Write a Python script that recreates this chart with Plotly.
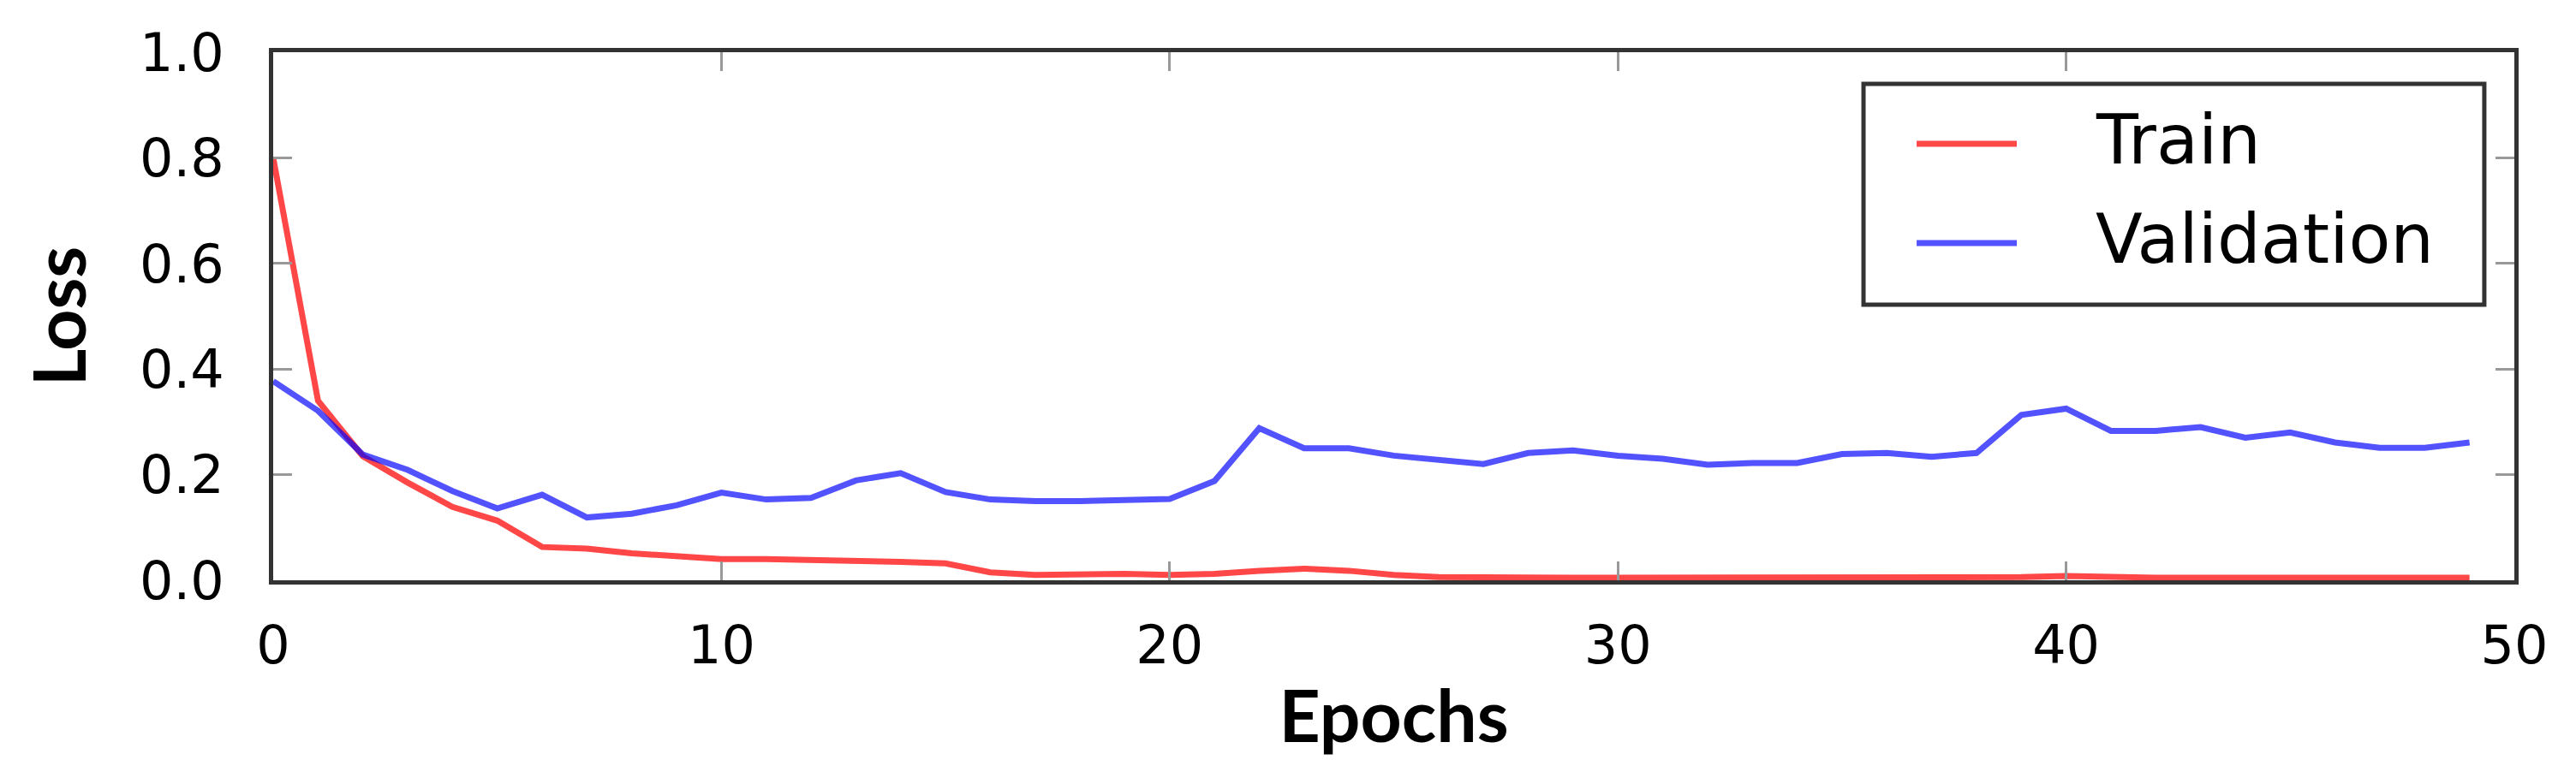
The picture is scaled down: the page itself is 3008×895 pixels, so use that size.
import plotly.graph_objects as go

epochs = list(range(50))
train_loss = [0.80, 0.34, 0.235, 0.185, 0.139, 0.113, 0.063, 0.060, 0.051, 0.046,
              0.040, 0.040, 0.039, 0.037, 0.035, 0.032, 0.015, 0.010, 0.012, 0.012,
              0.010, 0.012, 0.018, 0.022, 0.018, 0.010, 0.006, 0.005, 0.005, 0.005,
              0.005, 0.005, 0.005, 0.005, 0.005, 0.005, 0.005, 0.005, 0.005, 0.006,
              0.008, 0.006, 0.005, 0.005, 0.005, 0.005, 0.005, 0.005, 0.005, 0.005]
val_loss = [0.377, 0.321, 0.238, 0.209, 0.169, 0.136, 0.162, 0.119, 0.126, 0.142,
            0.166, 0.153, 0.156, 0.189, 0.203, 0.167, 0.153, 0.150, 0.150, 0.153,
            0.154, 0.188, 0.288, 0.250, 0.250, 0.236, 0.228, 0.220, 0.241, 0.246,
            0.236, 0.230, 0.219, 0.222, 0.222, 0.239, 0.241, 0.234, 0.241, 0.313,
            0.325, 0.283, 0.283, 0.290, 0.270, 0.280, 0.261, 0.251, 0.251, 0.261]
series_names = ["Train", "Validation"]
x_ticks = [0, 10, 20, 30, 40, 50]
y_ticks = [0.0, 0.2, 0.4, 0.6, 0.8, 1.0]

colors = ["rgba(255,0,0,0.72)", "rgba(0,0,255,0.68)"]

fig = go.Figure()
for name, ys, col in zip(series_names, [train_loss, val_loss], colors):
    fig.add_trace(go.Scatter(x=epochs, y=ys, mode="lines", name=name,
                             line=dict(color=col, width=7)))

axis_common = dict(
    showline=True, linecolor="#333333", linewidth=5, mirror="allticks",
    ticks="inside", ticklen=22, tickwidth=3, tickcolor="#999999",
    showgrid=False, zeroline=False,
    tickfont=dict(family="DejaVu Sans", size=62, color="black"),
)

fig.update_xaxes(range=[0, 50], tickvals=x_ticks, ticklabelstandoff=18,
                 title=dict(text="Epochs", standoff=20,
                            font=dict(family="Lato", size=84, color="black", weight="bold")),
                 **axis_common)
fig.update_yaxes(range=[0, 1.0], tickvals=y_ticks, tickformat=".1f", ticklabelstandoff=40,
                 title=dict(text="Loss", standoff=36,
                            font=dict(family="Lato", size=84, color="black", weight="bold")),
                 **axis_common)

# legend box drawn in paper coordinates (matplotlib-style legend)
leg_x0, leg_x1, leg_y0, leg_y1 = 0.7096, 0.9866, 0.5219, 0.940
line_x0, line_x1, text_x = 0.7333, 0.7780, 0.8124
entry_y = [0.8266, 0.6386]

shapes = [dict(type="rect", xref="paper", yref="paper",
               x0=leg_x0, x1=leg_x1, y0=leg_y0, y1=leg_y1,
               line=dict(color="#333333", width=5), fillcolor="white", layer="above")]
annotations = []
for name, col, ey in zip(series_names, colors, entry_y):
    shapes.append(dict(type="line", xref="paper", yref="paper",
                       x0=line_x0, x1=line_x1, y0=ey, y1=ey,
                       line=dict(color=col, width=7), layer="above"))
    annotations.append(dict(text=name, xref="paper", yref="paper", x=text_x, y=ey + 0.008,
                            xanchor="left", yanchor="middle", showarrow=False,
                            font=dict(family="DejaVu Sans", size=80, color="black")))

fig.update_layout(
    width=3008, height=895,
    margin=dict(l=311, r=80, t=53, b=225, autoexpand=False),
    paper_bgcolor="white", plot_bgcolor="white",
    showlegend=False,
    shapes=shapes, annotations=annotations,
)

fig.write_html("out.html")
